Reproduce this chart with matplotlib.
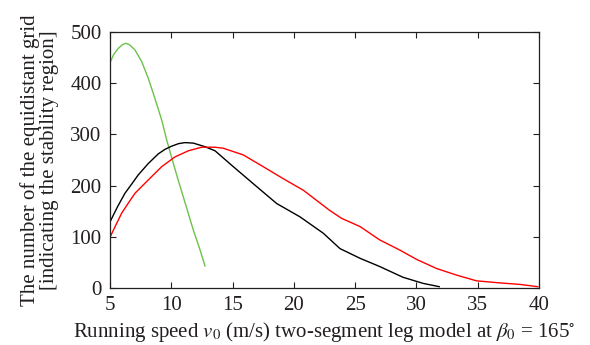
import matplotlib
matplotlib.use("Agg")
import matplotlib.pyplot as plt

plt.rcParams['font.family'] = ['Liberation Serif', 'DejaVu Serif']
plt.rcParams['mathtext.fontset'] = 'stix'

green_x = [5.0, 5.3, 5.68, 6.0, 6.28, 6.6, 7.04, 7.59, 8.12, 8.67, 9.22, 9.63, 10.03,
           10.5, 10.98, 11.4, 11.8, 12.3, 12.75]
green_y = [440, 456, 468, 475, 478, 475, 465, 442, 410, 370, 328, 289, 255,
           216, 178, 145, 113, 78, 43]

black_x = [5.0, 5.6, 6.22, 6.8, 7.31, 8.12, 8.94, 9.5, 10.03, 10.6, 11.12, 11.8, 12.75,
           13.57, 15.06, 16.97, 18.6, 20.5, 22.4, 23.76, 25.4, 27.0, 28.9, 30.55, 31.86]
black_y = [129, 158, 185, 204, 221, 243, 262, 271, 277, 282, 284, 283, 276,
           268, 237, 198, 165, 139, 107, 77, 58, 42, 21, 9, 2.6]

red_x = [5.0, 5.5, 5.95, 6.5, 7.04, 8.12, 9.22, 10.3, 11.39, 12.48, 13.57, 14.24, 15.87,
         17.5, 19.1, 20.77, 22.9, 23.9, 25.4, 27.0, 28.65, 30.0, 31.65, 33.3, 34.9,
         36.8, 38.45, 39.9]
red_y = [99, 124, 146, 166, 185, 211, 237, 256, 268, 275, 275, 273, 260,
         237, 214, 191, 152, 136, 120, 94, 74, 56, 38, 25, 14,
         10, 7, 2.6]

x_ticks = [5, 10, 15, 20, 25, 30, 35, 40]
y_ticks = [0, 100, 200, 300, 400, 500]

fig = plt.figure(figsize=(5.9, 3.45), dpi=100)
ax = fig.add_axes([0.1864, 0.1652, 0.7272, 0.742])

ax.plot(green_x, green_y, color='#6cc24a', lw=1.0)
ax.plot(black_x, black_y, color='black', lw=1.0)
ax.plot(red_x, red_y, color='#ff0000', lw=1.0)

ax.set_xlim(5, 40)
ax.set_ylim(0, 500)
ax.set_xticks(x_ticks)
ax.set_yticks(y_ticks)
ax.tick_params(direction='in', top=True, right=True, length=4, width=0.8,
               labelsize=15, colors='#231f20', pad=6)
for s in ax.spines.values():
    s.set_linewidth(0.9)
    s.set_color('#231f20')

ax.set_xlabel(r'Running speed $v_0$ (m/s) two-segment leg model at $\beta_0$ = 165$^{\circ}$',
              fontsize=15, color='#231f20', labelpad=3)
ax.set_ylabel('The number of the equidistant grid\n[indicating the stability region]',
              fontsize=15, color='#231f20', labelpad=8, linespacing=1.0)

fig.savefig('out.png', dpi=100)
